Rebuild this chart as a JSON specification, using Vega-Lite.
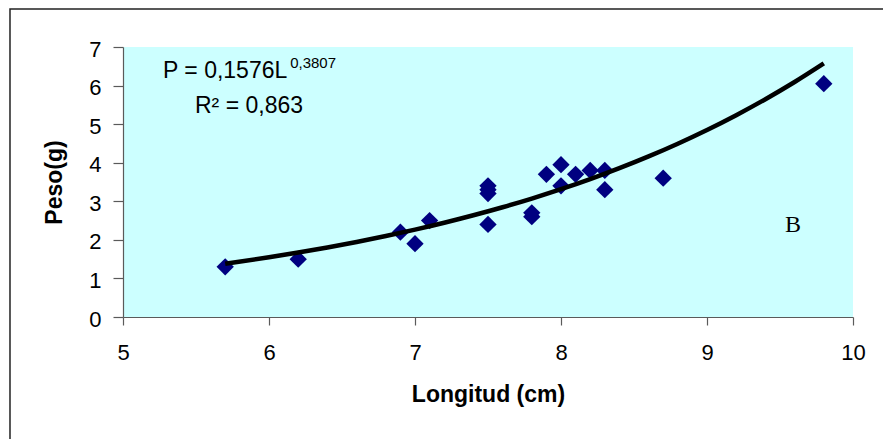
{
  "$schema": "https://vega.github.io/schema/vega-lite/v6.json",
  "width": 730,
  "height": 270,
  "autosize": {"type": "none"},
  "padding": {"left": 123, "top": 47, "right": 30, "bottom": 122},
  "background": "white",
  "config": {
    "view": {"fill": "#CCFFFF", "stroke": null},
    "font": "Liberation Sans",
    "axis": {"labelOverlap": false, "labelFlush": false, "grid": false}
  },
  "datasets": {
    "points": [
      {"longitud": 5.7, "peso": 1.3},
      {"longitud": 6.2, "peso": 1.5},
      {"longitud": 6.9, "peso": 2.2},
      {"longitud": 7.0, "peso": 1.9},
      {"longitud": 7.1, "peso": 2.5},
      {"longitud": 7.5, "peso": 3.4},
      {"longitud": 7.5, "peso": 3.3},
      {"longitud": 7.5, "peso": 3.2},
      {"longitud": 7.5, "peso": 2.4},
      {"longitud": 7.8, "peso": 2.7},
      {"longitud": 7.8, "peso": 2.6},
      {"longitud": 7.9, "peso": 3.7},
      {"longitud": 8.0, "peso": 3.95},
      {"longitud": 8.0, "peso": 3.4},
      {"longitud": 8.1, "peso": 3.7},
      {"longitud": 8.2, "peso": 3.8},
      {"longitud": 8.3, "peso": 3.8},
      {"longitud": 8.3, "peso": 3.3},
      {"longitud": 8.7, "peso": 3.6},
      {"longitud": 9.8, "peso": 6.05}
    ],
    "trend": [
      {"longitud": 5.7, "peso": 1.380},
      {"longitud": 6.0, "peso": 1.547},
      {"longitud": 6.2, "peso": 1.670},
      {"longitud": 6.4, "peso": 1.802},
      {"longitud": 6.6, "peso": 1.944},
      {"longitud": 6.8, "peso": 2.098},
      {"longitud": 7.0, "peso": 2.264},
      {"longitud": 7.2, "peso": 2.443},
      {"longitud": 7.4, "peso": 2.637},
      {"longitud": 7.6, "peso": 2.845},
      {"longitud": 7.8, "peso": 3.070},
      {"longitud": 8.0, "peso": 3.313},
      {"longitud": 8.2, "peso": 3.575},
      {"longitud": 8.4, "peso": 3.858},
      {"longitud": 8.6, "peso": 4.163},
      {"longitud": 8.8, "peso": 4.493},
      {"longitud": 9.0, "peso": 4.848},
      {"longitud": 9.2, "peso": 5.232},
      {"longitud": 9.4, "peso": 5.646},
      {"longitud": 9.6, "peso": 6.092},
      {"longitud": 9.8, "peso": 6.574}
    ]
  },
  "layer": [
    {
      "data": {"name": "points"},
      "mark": {"type": "point", "shape": "diamond", "filled": true, "color": "#000080", "opacity": 1, "size": 300},
      "encoding": {
        "x": {
          "field": "longitud", "type": "quantitative",
          "scale": {"domain": [5, 10], "nice": false, "zero": false},
          "axis": {
            "title": "Longitud (cm)", "values": [5, 6, 7, 8, 9, 10], "format": "d",
            "titleFont": "Liberation Sans", "titleFontSize": 23, "titleFontWeight": "bold", "titleColor": "black",
            "titlePadding": 20,
            "labelFont": "Liberation Sans", "labelFontSize": 22, "labelColor": "black", "labelPadding": 17,
            "tickSize": 8, "tickColor": "#5a5a5a", "domainColor": "#5a5a5a", "domainWidth": 1.2, "tickWidth": 1.2
          }
        },
        "y": {
          "field": "peso", "type": "quantitative",
          "scale": {"domain": [0, 7], "nice": false, "zero": false},
          "axis": {
            "title": "Peso(g)", "values": [0, 1, 2, 3, 4, 5, 6, 7], "format": "d",
            "titleFont": "Liberation Sans", "titleFontSize": 23, "titleFontWeight": "bold", "titleColor": "black",
            "titlePadding": 22,
            "labelFont": "Liberation Sans", "labelFontSize": 22, "labelColor": "black", "labelPadding": 12,
            "labelOffset": 2,
            "tickSize": 10, "tickColor": "#5a5a5a", "domainColor": "#5a5a5a", "domainWidth": 1.2, "tickWidth": 1.2
          }
        }
      }
    },
    {
      "data": {"name": "trend"},
      "mark": {"type": "line", "color": "black", "strokeWidth": 4.5, "interpolate": "monotone"},
      "encoding": {
        "x": {"field": "longitud", "type": "quantitative",
          "axis": {
            "title": "Longitud (cm)", "values": [5, 6, 7, 8, 9, 10], "format": "d",
            "titleFont": "Liberation Sans", "titleFontSize": 23, "titleFontWeight": "bold", "titleColor": "black",
            "titlePadding": 20,
            "labelFont": "Liberation Sans", "labelFontSize": 22, "labelColor": "black", "labelPadding": 17,
            "tickSize": 8, "tickColor": "#5a5a5a", "domainColor": "#5a5a5a", "domainWidth": 1.2, "tickWidth": 1.2
          }
        },
        "y": {"field": "peso", "type": "quantitative",
          "axis": {
            "title": "Peso(g)", "values": [0, 1, 2, 3, 4, 5, 6, 7], "format": "d",
            "titleFont": "Liberation Sans", "titleFontSize": 23, "titleFontWeight": "bold", "titleColor": "black",
            "titlePadding": 22,
            "labelFont": "Liberation Sans", "labelFontSize": 22, "labelColor": "black", "labelPadding": 12,
            "labelOffset": 2,
            "tickSize": 10, "tickColor": "#5a5a5a", "domainColor": "#5a5a5a", "domainWidth": 1.2, "tickWidth": 1.2
          }
        }
      }
    },
    {
      "data": {"values": [{"label": "P = 0,1576L"}]},
      "mark": {"type": "text", "align": "left", "baseline": "alphabetic", "fontSize": 23, "color": "black", "font": "Liberation Sans"},
      "encoding": {
        "x": {"datum": 5.274, "type": "quantitative", "axis": {"title": "Longitud (cm)", "values": [5, 6, 7, 8, 9, 10], "format": "d"}},
        "y": {"datum": 6.19, "type": "quantitative", "axis": {"title": "Peso(g)", "values": [0, 1, 2, 3, 4, 5, 6, 7], "format": "d"}},
        "text": {"field": "label"}
      }
    },
    {
      "data": {"values": [{"label": "0,3807"}]},
      "mark": {"type": "text", "align": "left", "baseline": "alphabetic", "fontSize": 15, "color": "black", "font": "Liberation Sans"},
      "encoding": {
        "x": {"datum": 6.145, "type": "quantitative", "axis": {"title": "Longitud (cm)", "values": [5, 6, 7, 8, 9, 10], "format": "d"}},
        "y": {"datum": 6.456, "type": "quantitative", "axis": {"title": "Peso(g)", "values": [0, 1, 2, 3, 4, 5, 6, 7], "format": "d"}},
        "text": {"field": "label"}
      }
    },
    {
      "data": {"values": [{"label": "R² = 0,863"}]},
      "mark": {"type": "text", "align": "left", "baseline": "alphabetic", "fontSize": 23, "color": "black", "font": "Liberation Sans"},
      "encoding": {
        "x": {"datum": 5.493, "type": "quantitative", "axis": {"title": "Longitud (cm)", "values": [5, 6, 7, 8, 9, 10], "format": "d"}},
        "y": {"datum": 5.30, "type": "quantitative", "axis": {"title": "Peso(g)", "values": [0, 1, 2, 3, 4, 5, 6, 7], "format": "d"}},
        "text": {"field": "label"}
      }
    },
    {
      "data": {"values": [{"label": "B"}]},
      "mark": {"type": "text", "align": "left", "baseline": "alphabetic", "fontSize": 24, "color": "black", "font": "Liberation Serif"},
      "encoding": {
        "x": {"datum": 9.534, "type": "quantitative", "axis": {"title": "Longitud (cm)", "values": [5, 6, 7, 8, 9, 10], "format": "d"}},
        "y": {"datum": 2.21, "type": "quantitative", "axis": {"title": "Peso(g)", "values": [0, 1, 2, 3, 4, 5, 6, 7], "format": "d"}},
        "text": {"field": "label"}
      }
    },
    {
      "data": {"values": [{"frame": "chart border"}]},
      "mark": {"type": "rect", "fillOpacity": 0, "stroke": "#222222", "strokeWidth": 1.5, "clip": false},
      "encoding": {
        "x": {"datum": 4.226, "type": "quantitative", "axis": {"title": "Longitud (cm)", "values": [5, 6, 7, 8, 9, 10], "format": "d"}},
        "x2": {"datum": 10.8},
        "y": {"datum": 7.985, "type": "quantitative", "axis": {"title": "Peso(g)", "values": [0, 1, 2, 3, 4, 5, 6, 7], "format": "d"}},
        "y2": {"datum": -4}
      }
    }
  ]
}
